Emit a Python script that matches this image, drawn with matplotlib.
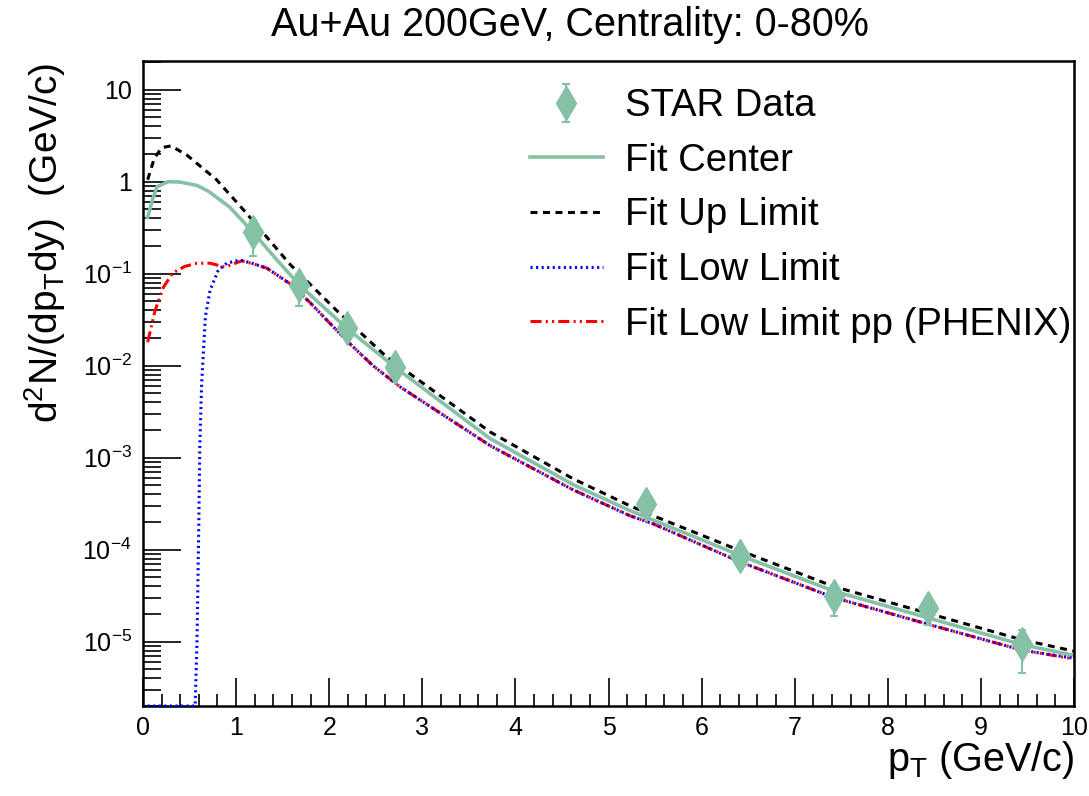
import numpy as np
import matplotlib
matplotlib.use("Agg")
import matplotlib.pyplot as plt
from matplotlib.ticker import FixedLocator, NullFormatter

plt.rcParams['font.family'] = ['Liberation Sans', 'DejaVu Sans']
plt.rcParams['mathtext.default'] = 'regular'
plt.rcParams['lines.scale_dashes'] = False

# STAR data points
data_pt = [1.18, 1.68, 2.19, 2.71, 5.40, 6.41, 7.42, 8.43, 9.44]
data_y = [0.284, 0.075, 0.0255, 0.0096, 3.17e-4, 8.6e-5, 3.15e-5, 2.33e-5, 9.5e-6]
err_lo = [0.13, 0.031, 0.004, 0.0012, 3e-5, 1e-5, 1.26e-5, 0.81e-5, 4.9e-6]
err_hi = [0.10, 0.025, 0.004, 0.0012, 3e-5, 1e-5, 1.0e-5, 0.65e-5, 3.9e-6]

# fit center
center_pt = [0.05, 0.10, 0.15, 0.27, 0.40, 0.58, 0.70, 0.86, 0.93, 1.18, 1.42, 1.68, 2.19,
             2.71, 3.73, 4.62, 5.23, 5.48, 6.41, 7.42, 8.43, 9.44, 10.0]
center_y = [0.41, 0.63, 0.88, 1.0, 0.99, 0.91, 0.79, 0.60, 0.53, 0.284, 0.148, 0.0752,
            0.0255, 0.00955, 1.61e-3, 5.1e-4, 2.66e-4, 2.10e-4, 8.7e-5, 3.55e-5, 1.82e-5,
            9.3e-6, 7.1e-6]

# fit up limit
up_pt = [0.05, 0.12, 0.20, 0.30, 0.47, 0.79, 1.10, 1.58, 2.08, 2.58, 2.76, 3.73,
         4.62, 5.23, 5.48, 6.41, 7.42, 8.43, 9.44, 10.0]
up_y = [1.05, 1.78, 2.34, 2.45, 1.95, 1.05, 0.468, 0.126, 0.0398, 0.0135, 9.8e-3, 1.90e-3,
        5.9e-4, 3.0e-4, 2.34e-4, 9.8e-5, 3.98e-5, 2.04e-5, 1.05e-5, 7.9e-6]

# fit low limit
low_pt = [0.05, 0.56, 0.58, 0.60, 0.61, 0.63, 0.67, 0.72, 0.81, 0.90, 1.04, 1.17, 1.33,
          1.58, 1.79, 1.97, 2.22, 2.47, 2.76, 3.73, 4.62, 5.23, 5.48, 6.41, 7.42, 8.43,
          9.44, 10.0]
low_y = [2e-6, 2e-6, 1e-5, 2.1e-4, 1.3e-3, 6.4e-3, 0.034, 0.066, 0.11, 0.13, 0.141, 0.13,
         0.115, 0.0776, 0.049, 0.0316, 0.0174, 0.0100, 5.9e-3, 1.35e-3, 4.47e-4, 2.34e-4,
         1.91e-4, 7.4e-5, 3.02e-5, 1.55e-5, 8.1e-6, 6.6e-6]

# fit low limit pp (PHENIX)
pp_pt = [0.05, 0.13, 0.22, 0.32, 0.45, 0.58, 0.72, 0.88, 1.06, 1.17, 1.33, 1.58, 1.79,
         1.97, 2.22, 2.47, 2.76, 3.73, 4.62, 5.23, 5.48, 6.41, 7.42, 8.43, 9.44, 10.0]
pp_y = [0.018, 0.040, 0.0714, 0.102, 0.120, 0.130, 0.130, 0.118, 0.138, 0.129, 0.115,
        0.0776, 0.049, 0.0316, 0.0174, 0.0100, 5.9e-3, 1.35e-3, 4.47e-4, 2.34e-4, 1.91e-4,
        7.4e-5, 3.02e-5, 1.55e-5, 8.1e-6, 6.5e-6]

green = '#85c1a4'

fig = plt.figure(figsize=(10.89, 7.96), dpi=100)
ax = fig.add_axes([143/1089, 1-706/796, (1074-143)/1089, (706-61)/796])

l_center, = ax.plot(center_pt, center_y, color=green, lw=2.6, label='Fit Center')
l_up, = ax.plot(up_pt, up_y, color='black', lw=2.2, ls=(0, (5, 4)), label='Fit Up Limit')
l_low, = ax.plot(low_pt, low_y, color='blue', lw=2.2, ls=(0, (1.5, 2.5)),
                 label='Fit Low Limit', clip_on=False, zorder=5)
l_pp, = ax.plot(pp_pt, pp_y, color='red', lw=2.2, ls=(0, (8, 3, 1.5, 3, 1.5, 3)),
                label='Fit Low Limit pp (PHENIX)')
eb = ax.errorbar(data_pt, data_y, yerr=[err_lo, err_hi], fmt='d', color=green, ms=17,
                 mec=green, ecolor=green, elinewidth=1.5, capsize=3, capthick=1.5,
                 label='STAR Data', zorder=6)

ax.set_yscale('log')
ax.set_xlim(0, 10)
ax.set_ylim(2e-6, 20.5)

ax.xaxis.set_major_locator(FixedLocator(np.arange(0, 11, 1)))
ax.xaxis.set_minor_locator(FixedLocator(np.arange(0, 10.01, 0.2)))
ax.set_xticklabels([str(i) for i in range(11)])

yt = [1e-5, 1e-4, 1e-3, 1e-2, 1e-1, 1, 10]
ax.yaxis.set_major_locator(FixedLocator(yt))
ax.set_yticklabels(['$10^{-5}$', '$10^{-4}$', '$10^{-3}$', '$10^{-2}$', '$10^{-1}$', '1', '10'])
minor = [m * 10.0**e for e in range(-6, 2) for m in range(2, 10)]
ax.yaxis.set_minor_locator(FixedLocator(minor))
ax.yaxis.set_minor_formatter(NullFormatter())

ax.tick_params(which='both', direction='in', top=False, right=False, labelsize=18, width=1.2)
ax.tick_params(axis='x', which='major', length=20, pad=7)
ax.tick_params(axis='x', which='minor', length=9)
ax.tick_params(axis='y', which='major', length=27, pad=8)
ax.tick_params(axis='y', which='minor', length=13)
for s in ax.spines.values():
    s.set_linewidth(1.8)

fig.text(570/1089, 1-25/796, 'Au+Au 200GeV, Centrality: 0-80%', fontsize=28.5,
         ha='center', va='center')
fig.text(1075/1089, 1-760/796, '$p_{T}$ (GeV/c)', fontsize=28.5, ha='right', va='center')
fig.text(45/1089, 1-63/796, 'd$^{2}$N/(dp$_{T}$dy)  (GeV/c)', fontsize=28, rotation=90,
         ha='center', va='top')

ax.legend([eb, l_center, l_up, l_low, l_pp],
          ['STAR Data', 'Fit Center', 'Fit Up Limit', 'Fit Low Limit', 'Fit Low Limit pp (PHENIX)'],
          loc='upper left', bbox_to_anchor=(530/1089, 1-88/796), bbox_transform=fig.transFigure,
          frameon=False, fontsize=27.5, handlelength=1.91, handletextpad=0.58,
          labelspacing=0.49, borderpad=0, borderaxespad=0)

fig.savefig('out.png', dpi=100)
